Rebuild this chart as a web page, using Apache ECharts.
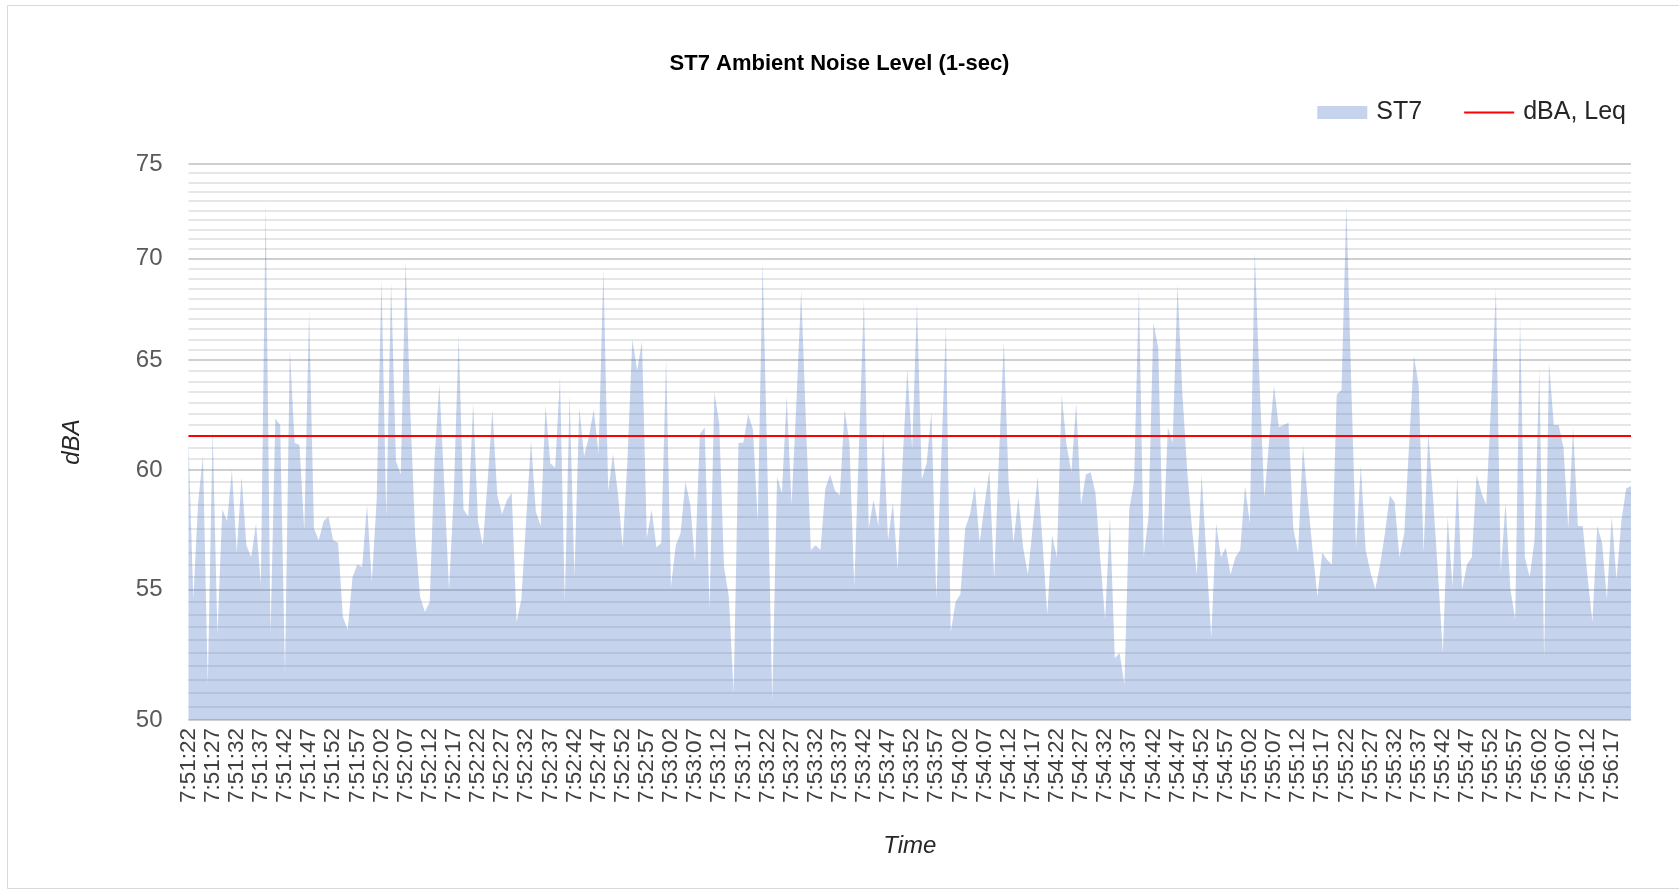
<!DOCTYPE html>
<html>
<head>
<meta charset="utf-8">
<script src="https://cdn.jsdelivr.net/npm/echarts@6/dist/echarts.min.js"></script>
<style>
  html, body { margin: 0; padding: 0; background: #fff; }
  #main { width: 1679px; height: 890px; }
</style>
</head>
<body>
<div id="main"></div>
<script>
// 1秒ごとの騒音データ
var startTime = [7, 51, 22];
var st7 = [
  61.3, 54.6, 58.6, 60.6, 51.3, 61.8, 53.2, 58.3, 57.8, 60.0,
  56.5, 59.7, 56.8, 56.3, 57.7, 55.2, 72.9, 53.2, 62.3, 62.0,
  51.7, 65.5, 61.2, 61.1, 57.4, 67.4, 57.5, 57.0, 57.8, 58.0,
  57.0, 56.9, 53.9, 53.4, 55.5, 56.0, 55.9, 58.5, 55.3, 58.7,
  69.0, 58.0, 68.8, 60.4, 59.8, 69.9, 62.5, 57.2, 54.7, 54.1,
  54.5, 60.5, 63.9, 59.4, 55.0, 59.0, 66.2, 58.3, 58.0, 63.0,
  57.8, 56.8, 59.5, 62.7, 58.9, 58.1, 58.7, 59.0, 53.7, 54.6,
  57.9, 61.3, 58.2, 57.6, 62.9, 60.3, 60.1, 64.2, 54.5, 63.4,
  55.5, 62.8, 60.6, 61.5, 62.7, 60.7, 69.5, 59.1, 60.7, 59.0,
  56.7, 60.5, 66.0, 64.5, 65.9, 57.1, 58.3, 56.7, 56.9, 65.1,
  55.1, 56.8, 57.3, 59.5, 58.5, 56.1, 61.6, 61.9, 54.2, 63.5,
  62.1, 55.9, 54.7, 51.0, 61.2, 61.2, 62.5, 61.8, 57.8, 69.8,
  60.0, 50.7, 59.7, 59.0, 63.3, 58.5, 63.0, 68.4, 62.0, 56.6,
  56.8, 56.6, 59.2, 59.8, 59.1, 58.9, 62.7, 61.2, 55.1, 61.2,
  68.0, 57.5, 58.7, 57.6, 61.8, 57.0, 58.6, 55.8, 60.3, 64.6,
  60.9, 67.8, 59.6, 60.3, 62.6, 54.6, 60.3, 66.7, 53.3, 54.5,
  54.8, 57.5, 58.1, 59.3, 56.9, 58.5, 60.0, 55.4, 60.6, 65.9,
  59.4, 56.9, 58.8, 56.7, 55.6, 57.6, 59.7, 57.0, 54.0, 57.2,
  56.3, 63.4, 61.1, 59.9, 63.0, 58.5, 59.8, 59.9, 59.0, 56.2,
  53.8, 58.0, 52.3, 52.5, 51.3, 58.3, 59.5, 68.5, 56.3, 58.0,
  66.8, 65.6, 56.7, 61.9, 61.2, 68.7, 63.5, 60.0, 57.5, 55.6,
  59.8, 56.3, 53.1, 57.7, 56.3, 56.7, 55.6, 56.3, 56.6, 59.3,
  57.7, 70.4, 64.0, 58.8, 61.3, 63.8, 61.9, 62.0, 62.1, 57.5,
  56.5, 61.1, 58.7, 56.6, 54.7, 56.5, 56.2, 56.0, 63.4, 63.6,
  72.8, 64.0, 56.7, 60.2, 56.6, 55.7, 55.0, 56.0, 57.3, 58.9,
  58.6, 56.3, 57.3, 61.1, 65.2, 63.8, 56.5, 61.7, 58.7, 55.6,
  52.5, 58.0, 55.1, 59.7, 55.0, 56.0, 56.3, 59.8, 59.0, 58.5,
  63.0, 68.5, 55.7, 58.6, 55.0, 53.8, 67.0, 56.3, 55.5, 57.0,
  64.6, 52.3, 64.9, 62.0, 62.0, 61.0, 57.5, 61.9, 57.6, 57.6,
  55.5, 53.7, 57.6, 56.9, 54.6, 58.0, 55.4, 57.8, 59.2, 59.3
];
var leq = 61.5;
var majorTicks = [50, 55, 60, 65, 70, 75];
var minorStep = 0.5;

// 時刻ラベル
var times = [];
var t0 = startTime[0] * 3600 + startTime[1] * 60 + startTime[2];
for (var i = 0; i < st7.length; i++) {
  var t = t0 + i;
  var h = Math.floor(t / 3600), m = Math.floor(t / 60) % 60, s = t % 60;
  times.push(h + ':' + (m < 10 ? '0' : '') + m + ':' + (s < 10 ? '0' : '') + s);
}

// 目盛線（対数軸なのでmarkLineで描く）
var gridLines = [];
for (var v = majorTicks[0]; v <= majorTicks[majorTicks.length - 1] + 1e-9; v += minorStep) {
  var isMajor = majorTicks.indexOf(v) >= 0;
  gridLines.push({
    name: String(v),
    yAxis: v,
    lineStyle: { color: isMajor ? '#bfbfbf' : '#e6e6e6', width: isMajor ? 1.5 : 2, type: 'solid' },
    label: { show: isMajor }
  });
}

var myChart = echarts.init(document.getElementById('main'));

var option = {
  backgroundColor: '#fff',
  animation: false,
  title: {
    text: 'ST7 Ambient Noise Level (1-sec)',
    left: 'center',
    top: 48,
    textStyle: { fontFamily: 'Liberation Sans', fontSize: 22, fontWeight: 'bold', color: '#000' }
  },
  legend: {
    right: 48,
    top: 95,
    itemWidth: 50,
    itemHeight: 13,
    itemGap: 42,
    textStyle: { fontFamily: 'Liberation Sans', fontSize: 25, color: '#262626', padding: [0, 0, 0, 4] },
    data: [
      { name: 'ST7', icon: 'rect', itemStyle: { color: '#c5d3ec' } },
      {
        name: 'dBA, Leq',
        icon: 'path://M0,0L50,0L50,0.01L0,0.01Z M0,5.5L50,5.5L50,7.5L0,7.5Z M0,12.99L50,12.99L50,13L0,13Z',
        itemStyle: { color: '#ff0000' }
      }
    ]
  },
  graphic: [{
    type: 'rect',
    shape: { x: 7.5, y: 5.5, width: 1680, height: 883 },
    style: { fill: null, stroke: '#d9d9d9', lineWidth: 1 },
    silent: true
  }],
  grid: { left: 188.5, right: 48, top: 164, bottom: 170 },
  xAxis: {
    type: 'category',
    data: times,
    boundaryGap: false,
    name: 'Time',
    nameLocation: 'middle',
    nameGap: 114,
    nameTextStyle: { fontFamily: 'Liberation Sans', fontSize: 24, fontStyle: 'italic', color: '#262626' },
    axisLine: { show: false },
    axisTick: { show: false },
    axisLabel: {
      interval: 4,
      rotate: 90,
      margin: 8,
      fontFamily: 'Liberation Sans',
      fontSize: 22.5,
      color: '#404040'
    },
    splitLine: { show: false }
  },
  yAxis: {
    type: 'log',
    logBase: 10,
    min: 50,
    max: 75,
    name: 'dBA',
    nameLocation: 'middle',
    nameGap: 104,
    nameTextStyle: { fontFamily: 'Liberation Sans', fontSize: 24, fontStyle: 'italic', color: '#262626' },
    axisLine: { show: false },
    axisTick: { show: false },
    axisLabel: { show: false },
    splitLine: { show: false }
  },
  series: [
    {
      name: 'grid',
      type: 'line',
      data: [],
      silent: true,
      markLine: {
        z: 1,
        silent: true,
        symbol: ['none', 'none'],
        label: {
          position: 'start',
          distance: 26,
          formatter: '{b}',
          fontFamily: 'Liberation Sans',
          fontSize: 24,
          color: '#595959'
        },
        data: gridLines
      }
    },
    {
      name: 'ST7',
      type: 'line',
      z: 2,
      data: st7,
      symbol: 'none',
      lineStyle: { width: 0 },
      itemStyle: { color: '#c5d3ec' },
      areaStyle: { color: '#4472C4', opacity: 0.31, origin: 'start' }
    },
    {
      name: 'dBA, Leq',
      type: 'line',
      data: [],
      symbol: 'none',
      itemStyle: { color: '#ff0000' },
      lineStyle: { color: '#ff0000', width: 2 },
      markLine: {
        silent: true,
        symbol: ['none', 'none'],
        label: { show: false },
        lineStyle: { color: '#ff0000', width: 2, type: 'solid' },
        data: [{ yAxis: leq }]
      }
    }
  ]
};

myChart.setOption(option);
</script>
</body>
</html>
